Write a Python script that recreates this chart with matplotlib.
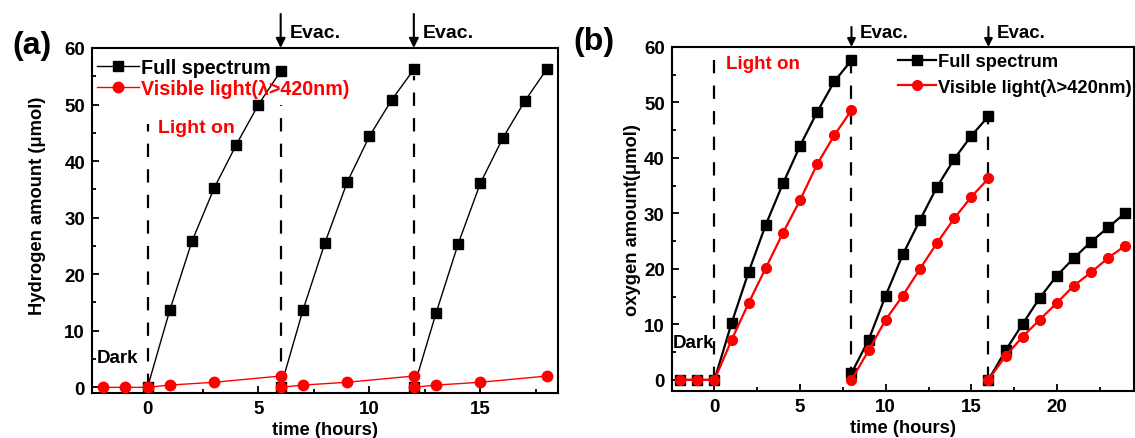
import matplotlib
matplotlib.use("Agg")
import matplotlib.pyplot as plt
from matplotlib.ticker import MultipleLocator

plt.rcParams['font.family'] = ['Liberation Sans', 'DejaVu Sans']
plt.rcParams['font.weight'] = 'bold'

# ---------------- Panel (a): hydrogen ----------------
a_full_x = [[0, 1, 2, 3, 4, 5, 6], [6, 7, 8, 9, 10, 11, 12], [12, 13, 14, 15, 16, 17, 18]]
a_full_y = [[0, 13.6, 25.8, 35.2, 42.9, 50.0, 55.9],
            [0, 13.6, 25.6, 36.3, 44.4, 50.8, 56.2],
            [0, 13.1, 25.4, 36.1, 44.0, 50.6, 56.3]]
a_vis_x = [[-2, -1, 0, 1, 3, 6], [6, 7, 9, 12], [12, 13, 15, 18]]
a_vis_y = [[0, 0, 0, 0.4, 0.9, 2.0], [0, 0.4, 0.9, 2.0], [0, 0.4, 0.9, 2.0]]
a_dash_x = [0, 6, 12]
a_dash_top = [46.5, 50, 55]
a_evac_x = [6, 12]

# ---------------- Panel (b): oxygen ----------------
b_full_x = [[-2, -1, 0, 1, 2, 3, 4, 5, 6, 7, 8],
            [8, 9, 10, 11, 12, 13, 14, 15, 16],
            [16, 17, 18, 19, 20, 21, 22, 23, 24]]
b_full_y = [[0, 0, 0, 10.25, 19.5, 28.0, 35.4, 42.2, 48.3, 53.8, 57.6],
            [1.2, 7.2, 15.2, 22.6, 28.8, 34.8, 39.8, 44.0, 47.5],
            [0, 5.3, 10.1, 14.8, 18.8, 22.0, 24.9, 27.5, 30.1]]
b_vis_x = b_full_x
b_vis_y = [[0, 0, 0, 7.2, 13.9, 20.2, 26.5, 32.4, 38.9, 44.1, 48.6],
           [0, 5.3, 10.85, 15.2, 20.0, 24.7, 29.1, 33.0, 36.3],
           [0, 4.3, 7.8, 10.85, 13.9, 17.0, 19.4, 22.0, 24.2]]
b_dash_x = [0, 8, 16]
b_dash_top = [60, 60, 50]
b_evac_x = [8, 16]

label_full = "Full spectrum"
label_vis = "Visible light(λ>420nm)"

RED = '#ff0000'
DASH = (0, (6, 5.5))

fig = plt.figure(figsize=(11.35, 4.39), dpi=100)
axA = fig.add_axes([0.0811, 0.1025, 0.4106, 0.786])
axB = fig.add_axes([0.5918, 0.1071, 0.4073, 0.7836])


def style_axes(ax, xlim, ylim, xmaj, xmin):
    ax.set_xlim(*xlim)
    ax.set_ylim(*ylim)
    ax.xaxis.set_major_locator(MultipleLocator(xmaj))
    ax.xaxis.set_minor_locator(MultipleLocator(xmin))
    ax.yaxis.set_major_locator(MultipleLocator(10))
    ax.yaxis.set_minor_locator(MultipleLocator(5))
    ax.tick_params(which='both', direction='in', top=False, right=False,
                   width=1.3)
    ax.tick_params(which='major', length=5, labelsize=13.5, pad=5)
    ax.tick_params(which='minor', length=3)
    for s in ax.spines.values():
        s.set_linewidth(1.5)
    for lab in ax.get_xticklabels() + ax.get_yticklabels():
        lab.set_fontweight('bold')


# ---- Panel (a) ----
ax = axA
for i, (xs, ys) in enumerate(zip(a_full_x, a_full_y)):
    ax.plot(xs, ys, color='k', lw=1.0, marker='s', ms=7.5, zorder=3,
            label=label_full if i == 0 else None)
for i, (xs, ys) in enumerate(zip(a_vis_x, a_vis_y)):
    ax.plot(xs, ys, color=RED, lw=1.0, marker='o', ms=7.5, zorder=4,
            label=label_vis if i == 0 else None)
for xd, yt in zip(a_dash_x, a_dash_top):
    ax.plot([xd, xd], [0, yt], color='k', lw=1.6, ls=DASH, zorder=2)
for xe in a_evac_x:
    ax.annotate('', xy=(xe, 60), xytext=(xe, 66), xycoords='data',
                annotation_clip=False,
                arrowprops=dict(arrowstyle='-|>', color='k', lw=1.5,
                                mutation_scale=14, shrinkA=0, shrinkB=0))
    ax.text(xe + 0.4, 62.8, 'Evac.', fontsize=14, fontweight='bold',
            ha='left', va='center', clip_on=False)
ax.text(0.45, 46, 'Light on', color=RED, fontsize=14, fontweight='bold',
        ha='left', va='center')
ax.text(-2.3, 5.3, 'Dark', fontsize=13.5, fontweight='bold',
        ha='left', va='center')
style_axes(ax, (-2.5, 18.5), (-1, 60), 5, 2.5)
ax.set_xlabel('time (hours)', fontsize=13.2, fontweight='bold', labelpad=3)
ax.set_ylabel('Hydrogen amount (μmol)', fontsize=13.2, fontweight='bold',
              labelpad=0)
ax.yaxis.set_label_coords(-0.099, 0.545)
leg = ax.legend(loc='upper left', bbox_to_anchor=(0.011, 0.971), frameon=False,
                fontsize=14.2, borderpad=0, borderaxespad=0, handlelength=2.1,
                handletextpad=0.1, labelspacing=0.12)
for t, c in zip(leg.get_texts(), ['k', RED]):
    t.set_color(c)
    t.set_fontweight('bold')
fig.text(12 / 1135, 1 - 46 / 439, '(a)', fontsize=23, fontweight='bold',
         ha='left', va='center')

# ---- Panel (b) ----
ax = axB
for i, (xs, ys) in enumerate(zip(b_full_x, b_full_y)):
    ax.plot(xs, ys, color='k', lw=1.6, marker='s', ms=7, zorder=3,
            label=label_full if i == 0 else None)
for i, (xs, ys) in enumerate(zip(b_vis_x, b_vis_y)):
    ax.plot(xs, ys, color=RED, lw=1.6, marker='o', ms=7, zorder=4,
            label=label_vis if i == 0 else None)
for xd, yt in zip(b_dash_x, b_dash_top):
    ax.plot([xd, xd], [0, yt], color='k', lw=1.6, ls=DASH, zorder=2)
for xe in b_evac_x:
    ax.annotate('', xy=(xe, 60), xytext=(xe, 63.6), xycoords='data',
                annotation_clip=False,
                arrowprops=dict(arrowstyle='-|>', color='k', lw=1.5,
                                mutation_scale=12, shrinkA=0, shrinkB=0))
    ax.text(xe + 0.5, 62.7, 'Evac.', fontsize=13.5, fontweight='bold',
            ha='left', va='center', clip_on=False)
ax.text(0.66, 57.1, 'Light on', color=RED, fontsize=13.5, fontweight='bold',
        ha='left', va='center')
ax.text(-2.45, 6.7, 'Dark', fontsize=13.5, fontweight='bold',
        ha='left', va='center')
style_axes(ax, (-2.5, 24.5), (-2, 60), 5, 2.5)
ax.set_xlabel('time (hours)', fontsize=13.2, fontweight='bold', labelpad=3)
ax.set_ylabel('oxygen amount(μmol)', fontsize=13.2, fontweight='bold',
              labelpad=0)
ax.yaxis.set_label_coords(-0.066, 0.5)
leg = ax.legend(loc='upper left', bbox_to_anchor=(0.4895, 0.982), frameon=False,
                fontsize=13.2, borderpad=0, borderaxespad=0, handlelength=2.1,
                handletextpad=0.1, labelspacing=0.42)
for t in leg.get_texts():
    t.set_color('k')
    t.set_fontweight('bold')
fig.text(573 / 1135, 1 - 42 / 439, '(b)', fontsize=23, fontweight='bold',
         ha='left', va='center')

fig.savefig('out.png', dpi=100)
